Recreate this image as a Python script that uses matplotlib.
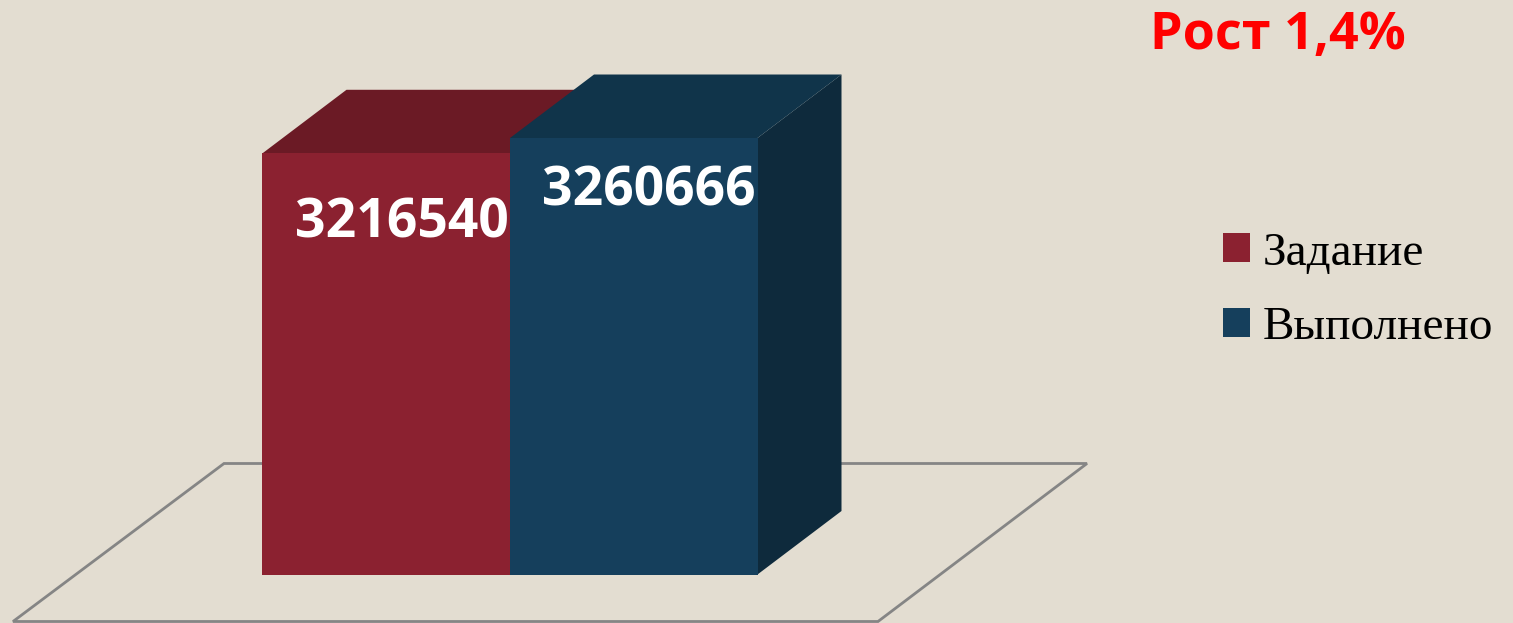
import numpy as np
import matplotlib
matplotlib.use("Agg")
import matplotlib.pyplot as plt
from matplotlib.patches import Polygon

# data
categories = ["Задание", "Выполнено"]
values = [3216540, 3260666]
growth_text = "Рост 1,4%"

front_colors = ["#8B2130", "#153F5C"]
top_colors = ["#6B1A25", "#10344A"]
side_colors = ["#5E1520", "#0E2A3C"]
bg = "#E3DDD1"

W, H = 1513, 623
BASE = 2000000          # value axis starts here (bars are not drawn from zero)
px_per_unit = 3.4624e-4  # vertical pixels per value unit
base_px = 574.5          # pixel row of the bar bottoms
bar_px = 247.5           # pixel width of one bar
x0_px = 386.25           # pixel column of the first bar centre
depth_x = 84 / bar_px
depth_y = 63.5 / px_per_unit

fig = plt.figure(figsize=(W / 100, H / 100), dpi=100, facecolor=bg)
ax = fig.add_axes([0, 0, 1, 1])
ax.set_facecolor(bg)
ax.set_xlim(-x0_px / bar_px, (W - x0_px) / bar_px)
ax.set_ylim(BASE - (H - base_px) / px_per_unit, BASE + base_px / px_per_unit)
ax.axis("off")

# floor (drawn in pixel fractions of the figure)
floor = [(13, 621.5), (878, 621.5), (1087, 463.5), (224, 463.5)]
floor = [(x / W, 1 - y / H) for x, y in floor]
ax.add_patch(Polygon(floor, closed=True, facecolor="none", edgecolor="#858585",
                     lw=2, transform=ax.transAxes, zorder=1))

xs = np.arange(len(values))
for i, (x, v) in enumerate(zip(xs, values)):
    left, right = x - 0.5, x + 0.5
    side = [(right, BASE), (right, v), (right + depth_x, v + depth_y),
            (right + depth_x, BASE + depth_y)]
    top = [(left, v), (right, v), (right + depth_x, v + depth_y),
           (left + depth_x, v + depth_y)]
    ax.add_patch(Polygon(side, closed=True, facecolor=side_colors[i], lw=0, zorder=2 + i * 3))
    ax.add_patch(Polygon(top, closed=True, facecolor=top_colors[i], lw=0, zorder=3 + i * 3))
    ax.bar(x, v - BASE, bottom=BASE, width=1.0, color=front_colors[i],
           label=categories[i], zorder=4 + i * 3)

# value labels inside bars
label_dx = [0.065, 0.06]
label_dy = [70, 53]
for i, (x, v) in enumerate(zip(xs, values)):
    ax.text(x + label_dx[i], v - label_dy[i] / px_per_unit, str(v),
            ha="center", va="center", color="white", fontsize=38.5,
            fontweight="bold", family="Open Sans", zorder=20)

fig.text(1150 / W, 1 - 49 / H, growth_text, ha="left", va="baseline",
         color="#FF0000", fontsize=37.5, fontweight="bold", family="Open Sans")

leg = ax.legend(loc="upper left", bbox_to_anchor=(1223 / W, 1 - 232 / H),
                bbox_transform=fig.transFigure, frameon=False,
                prop={"family": "Liberation Serif", "size": 34},
                handlelength=0.57, handleheight=0.57, handletextpad=0.28,
                labelspacing=0.68, borderpad=0, borderaxespad=0)

fig.savefig("out.png", dpi=100, facecolor=bg)
